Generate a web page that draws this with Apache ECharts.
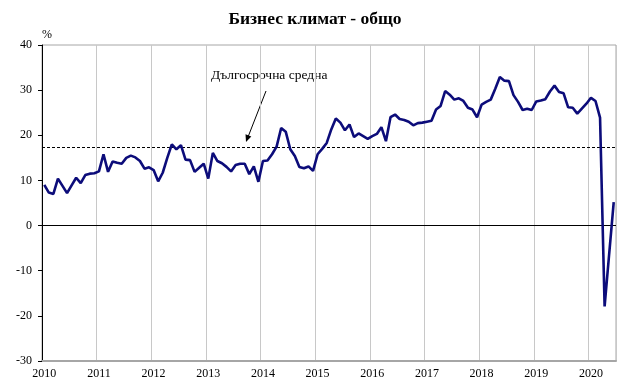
<!DOCTYPE html>
<html>
<head>
<meta charset="utf-8">
<script src="https://cdn.jsdelivr.net/npm/echarts@6/dist/echarts.min.js"></script>
<style>
html,body{margin:0;padding:0;background:#fff;}
#chart{width:630px;height:392px;}
</style>
</head>
<body>
<div id="chart"></div>
<script>
// Monthly categories Jan 2010 - Jun 2020
const years = [2010,2011,2012,2013,2014,2015,2016,2017,2018,2019,2020];
const months = [];
years.forEach(y => { for (let m = 1; m <= 12; m++) { if (y === 2020 && m > 6) break; months.push(y + '-' + (m < 10 ? '0' + m : m)); } });

const v2010 = [9.0, 7.3, 7.0, 10.4, 8.8, 7.2, 8.9, 10.6, 9.4, 11.2, 11.5, 11.6];
const v2011 = [12.0, 15.8, 11.9, 14.2, 13.9, 13.7, 15.0, 15.5, 15.1, 14.3, 12.6, 12.9];
const v2012 = [12.3, 9.8, 11.7, 15.0, 18.0, 16.9, 17.8, 14.6, 14.5, 11.9, 12.8, 13.7];
const v2013 = [10.4, 16.1, 14.3, 13.8, 13.0, 12.0, 13.4, 13.7, 13.7, 11.4, 13.1, 9.7];
const v2014 = [14.3, 14.4, 15.8, 17.5, 21.6, 20.8, 16.9, 15.4, 13.0, 12.7, 13.1, 12.1];
const v2015 = [15.8, 17.0, 18.3, 21.3, 23.7, 22.8, 21.1, 22.4, 19.6, 20.4, 19.8, 19.2];
const v2016 = [19.8, 20.3, 21.8, 18.7, 24.0, 24.6, 23.6, 23.4, 23.0, 22.2, 22.7, 22.8];
const v2017 = [23.0, 23.2, 25.7, 26.5, 29.8, 29.0, 27.9, 28.2, 27.6, 26.1, 25.7, 24.0];
const v2018 = [26.8, 27.4, 27.9, 30.3, 32.9, 32.1, 32.0, 28.9, 27.4, 25.6, 25.9, 25.6];
const v2019 = [27.5, 27.7, 28.0, 29.7, 31.0, 29.6, 29.3, 26.2, 26.1, 24.8, 25.9, 27.0];
const v2020 = [28.3, 27.6, 23.9, -17.9, -6.3, 5.2];
const values = [].concat(v2010, v2011, v2012, v2013, v2014, v2015, v2016, v2017, v2018, v2019, v2020);

const longTermAvg = 17.4;
const yTicks = [-30, -20, -10, 0, 10, 20, 30, 40];

const titleText = 'Бизнес климат - общо';
const annotText = 'Дългосрочна средна';
const FONT = '"Liberation Serif", "DejaVu Serif", serif';

const chart = echarts.init(document.getElementById('chart'), null, {renderer: 'canvas'});
chart.setOption({
  animation: false,
  backgroundColor: '#ffffff',
  title: {
    text: titleText, left: 'center', top: 5,
    textStyle: {fontFamily: FONT, fontWeight: 'bold', fontSize: 17.5, color: '#000'}
  },
  grid: {left: 42, right: 14, top: 45, bottom: 31, show: true, borderColor: '#a6a6a6', borderWidth: 1},
  xAxis: {
    type: 'category', data: months, boundaryGap: true,
    axisLine: {show: true, onZero: false, lineStyle: {color: '#a6a6a6', width: 2}},
    axisTick: {show: false},
    axisLabel: {
      interval: (i) => i % 12 === 0,
      formatter: (v) => v.slice(0, 4),
      fontFamily: FONT, fontSize: 12, color: '#000', margin: 7
    },
    splitLine: {show: true, interval: (i) => i % 12 === 0 && i > 0, lineStyle: {color: '#c8c8c8', width: 1}}
  },
  yAxis: {
    type: 'value', min: -30, max: 40, interval: 10,
    name: '%', nameLocation: 'end', nameGap: 4,
    nameTextStyle: {fontFamily: FONT, fontSize: 12, color: '#000', align: 'left', padding: [0,0,0,0]},
    axisLine: {show: true, onZero: false, lineStyle: {color: '#000', width: 1}},
    axisTick: {show: true, length: 4, lineStyle: {color: '#000'}},
    axisLabel: {fontFamily: FONT, fontSize: 12, color: '#000', margin: 10},
    splitLine: {show: false}
  },
  series: [{
    type: 'line', data: values, symbol: 'none', smooth: false,
    lineStyle: {color: '#0c0c7a', width: 2.6},
    z: 5,
    markLine: {
      silent: true, symbol: ['none', 'none'], label: {show: false}, animation: false,
      data: [
        {yAxis: 0, lineStyle: {color: '#000', width: 1, type: 'solid'}},
        {yAxis: longTermAvg, lineStyle: {color: '#000', width: 1, type: [3, 2]}}
      ]
    }
  }],
  graphic: [
    {type: 'text', left: 211, top: 68, style: {text: annotText, font: '13.5px ' + FONT, fill: '#000'}},
    {type: 'line', shape: {x1: 266, y1: 91, x2: 248, y2: 137}, style: {stroke: '#000', lineWidth: 1}},
    {type: 'polygon', shape: {points: [[246, 142], [251.3, 136.4], [245.5, 134.3]]}, style: {fill: '#000'}}
  ]
});
</script>
</body>
</html>
